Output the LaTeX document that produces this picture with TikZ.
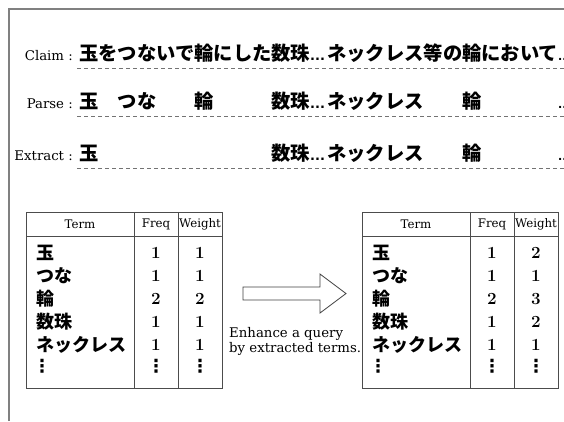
\documentclass[tikz,border=0pt]{standalone}
\usepackage{fontspec}
\newfontfamily\jp{Noto Sans CJK JP}
\newfontfamily\lbl{DejaVu Serif}
\newfontfamily\dvs{DejaVu Sans}
\newcommand\dts{{\dvs\bfseries\fontsize{13}{15}\selectfont...}}
\newcommand\edts{{\dvs\bfseries\fontsize{11}{15}\selectfont...}}
\tikzset{
  frameline/.style={draw=black!50, line width=1.5pt},
  dashline/.style={draw=black!55, dash pattern=on 4pt off 3pt, line width=0.8pt},
  tline/.style={draw=black!70, line width=0.9pt},
  rowlabel/.style={anchor=base east, inner sep=0pt, font=\lbl\fontsize{13.3}{15}\selectfont},
  jptext/.style={anchor=base west, inner sep=0pt, font=\jp\bfseries\fontsize{19.3}{22}\selectfont},
  hdr/.style={inner sep=0pt, font=\lbl\fontsize{11.8}{14}\selectfont},
  term/.style={anchor=west, inner sep=0pt, font=\jp\bfseries\fontsize{18}{20}\selectfont},
  num/.style={inner sep=0pt, font=\bfseries\fontsize{17}{20}\selectfont},
  vd/.style={inner sep=0pt, font=\dvs\bfseries\fontsize{18}{20}\selectfont},
  blockarrow/.style={draw=black!75, line width=0.8pt, fill=white},
  note/.style={anchor=base west, inner sep=0pt, font=\lbl\fontsize{13.3}{16}\selectfont},
}
\newcommand\qtable[8]{%
  \begin{scope}[xshift=#2]
    \draw[tline] (26,212) rectangle (222,388);
    \draw[tline] (26,236) -- (222,236);
    \draw[tline] (134,212) -- (134,388);
    \draw[tline] (178,212) -- (178,388);
    \node[hdr] (#1h1) at (80,224) {Term};
    \node[hdr] (#1h2) at (156,224) {Freq};
    \node[hdr] (#1h3) at (200,224) {Weight};
    \node[term] (#1t1) at (36,253) {玉};
    \node[term] (#1t2) at (36,276) {つな};
    \node[term] (#1t3) at (36,299) {輪};
    \node[term] (#1t4) at (36,322) {数珠};
    \node[term] (#1t5) at (36,345) {ネックレス};
    \node[vd] (#1t6) at (42,366) {⋮};
    \node[num] (#1f1) at (156,253) {1};
    \node[num] (#1f2) at (156,276) {1};
    \node[num] (#1f3) at (156,299) {2};
    \node[num] (#1f4) at (156,322) {1};
    \node[num] (#1f5) at (156,345) {1};
    \node[vd] (#1f6) at (156,366) {⋮};
    \node[num] (#1w1) at (200,253) {#3};
    \node[num] (#1w2) at (200,276) {#4};
    \node[num] (#1w3) at (200,299) {#5};
    \node[num] (#1w4) at (200,322) {#6};
    \node[num] (#1w5) at (200,345) {#7};
    \node[vd] (#1w6) at (200,366) {⋮};
  \end{scope}}
\begin{document}
\begin{tikzpicture}[x=1pt,y=-1pt]
\useasboundingbox (0,0) rectangle (564,421);
\clip (0,0) rectangle (564,421);
\draw[frameline] (9,421) -- (9,9) -- (564,9);
% rows
\node[rowlabel] (lclaim) at (73,60) {Claim :};
\node[jptext] (c1) at (79,60) {玉をつないで輪にした数珠\dts};
\node[jptext] (c2) at (327,60) {ネックレス等の輪において\edts};
\draw[dashline] (77,68) -- (564,68);
\node[rowlabel] (lparse) at (73,108) {Parse :};
\node[jptext] (p1) at (79,108) {玉\phantom{を}つな\phantom{いで}輪\phantom{にした}数珠\dts};
\node[jptext] (p2) at (327,108) {ネックレス\phantom{等の}輪\phantom{において}\edts};
\draw[dashline] (77,116) -- (564,116);
\node[rowlabel] (lextract) at (73,160) {Extract :};
\node[jptext] (e1) at (79,160) {玉\phantom{をつないで輪にした}数珠\dts};
\node[jptext] (e2) at (327,160) {ネックレス\phantom{等の}輪\phantom{において}\edts};
\draw[dashline] (77,168) -- (564,168);
% tables
\qtable{L}{0pt}{1}{1}{2}{1}{1}{}
\qtable{R}{336pt}{2}{1}{3}{2}{1}{}
% arrow
\draw[blockarrow] (243,287) -- (320,287) -- (320,274) -- (346,293.5) -- (320,313) -- (320,300) -- (243,300) -- cycle;
\node[note] (n1) at (229,337) {Enhance a query};
\node[note] (n2) at (229,352) {by extracted terms.};
\end{tikzpicture}
\end{document}
